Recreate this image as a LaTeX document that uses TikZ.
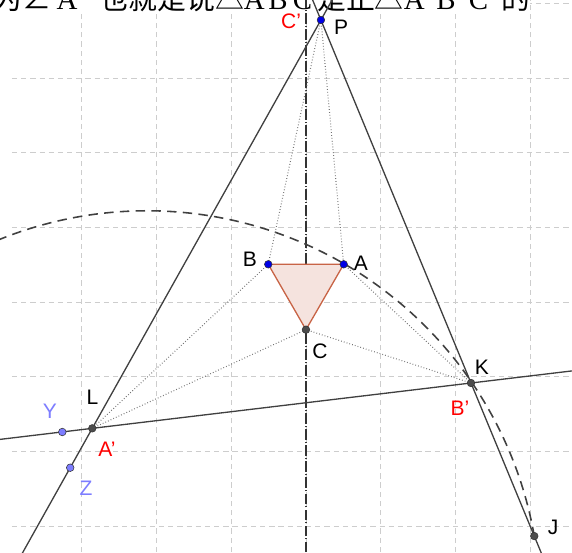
\documentclass[tikz,border=0pt]{standalone}
\usepackage{fontspec}
\setsansfont{Liberation Sans}
\newfontfamily\cjk{Noto Sans CJK SC}
\newfontfamily\lat{Liberation Serif}
\newcommand{\cw}[2]{\makebox[#1][l]{#2}}
\pgfdeclarelayer{bg}
\pgfsetlayers{bg,main}
\definecolor{ptblue}{RGB}{0,0,230}
\definecolor{ptviolet}{RGB}{125,125,255}
\definecolor{polybrown}{RGB}{200,100,70}
\definecolor{gridgray}{RGB}{205,205,205}
\tikzset{
	pt/.style={circle,draw=black!80,line width=0.2pt,inner sep=0pt,minimum size=2.9pt},
	bluept/.style={pt,fill=ptblue},
	darkpt/.style={pt,fill=black!70},
	violetpt/.style={pt,fill=ptviolet},
	lbl/.style={font=\sffamily\fontsize{8}{9}\selectfont,inner sep=0pt},
	gridln/.style={draw=gridgray,line width=0.3pt,dash pattern=on 2pt off 1.5pt},
	solidln/.style={draw=black!75,line width=0.5pt},
	dotln/.style={draw=black!55,line width=0.4pt,dash pattern=on 0.3pt off 0.8pt},
	arcln/.style={draw=black!75,line width=0.6pt,dash pattern=on 3.6pt off 2.4pt},
	axisln/.style={draw=black!80,line width=0.5pt,dash pattern=on 4pt off 0.8pt on 0.5pt off 0.8pt}
}
\begin{document}
\begin{tikzpicture}[line join=round]
	\useasboundingbox (-4.096,-3.347) rectangle (3.561,4.043);
	\clip (-3.936,-3.347) rectangle (3.561,4.043);
	\path (0.505,0.505) node[bluept](A){} (-0.505,0.505) node[bluept](B){} (0,-0.37) node[darkpt](C){};
	\path (0.2,3.775) node[bluept](P){} (2.209,-1.084) node[darkpt](K){} (-2.861,-1.691) node[darkpt](L){};
	\path (-3.262,-1.740) node[violetpt](Y){} (-3.156,-2.218) node[violetpt](Z){} (3.056,-3.133) node[darkpt](J){};
	\path (0.736,0.522) node[lbl](labA){A} (-0.75,0.576) node[lbl](labB){B} (0.187,-0.656) node[lbl](labC){C};
	\path (0.469,3.681) node[lbl](labP){P} (-0.2,3.762) node[lbl,red](labCp){C'};
	\path (2.356,-0.870) node[lbl](labK){K} (2.062,-1.419) node[lbl,red](labBp){B'};
	\path (-2.858,-1.272) node[lbl](labL){L} (-2.664,-1.968) node[lbl,red](labAp){A'};
	\path (-3.427,-1.459) node[lbl,ptviolet](labY){Y} (-2.945,-2.49) node[lbl,ptviolet](labZ){Z} (3.307,-3.012) node[lbl](labJ){J};
	\begin{pgfonlayer}{bg}
		\foreach \x in {-3,...,3} \draw[gridln] (\x,-3.347)--(\x,4.043);
		\foreach \y in {-3,...,4} \draw[gridln] (-3.936,\y)--(3.561,\y);
		\node[anchor=base west,fill=white,inner sep=0pt,font=\cjk\fontsize{11}{12}\selectfont] (note) at (-4.19,3.922)
			{\cw{11pt}{为}\cw{13pt}{∠}{\lat\cw{16.4pt}{A'}}也就是说\cw{11pt}{△}{\lat\cw{9.3pt}{A'}\cw{9.3pt}{B'}\cw{9.3pt}{C'}}是正\cw{11pt}{△}{\lat\cw{12.4pt}{A}\cw{12.4pt}{B}\cw{12.4pt}{C}}的};
		\draw[axisln] (0,-3.347)--(0,4.043);
		\draw[arcln] (J.center) arc[start angle=9.95,end angle=118,radius=5.264];
		\draw[solidln,shorten <=-3cm,shorten >=-1cm] (L.center)--(P.center);
		\draw[solidln,shorten <=-3cm,shorten >=-1cm] (K.center)--(P.center);
		\draw[solidln,shorten <=-2cm,shorten >=-2cm] (L.center)--(K.center);
		\foreach \a/\b in {P/A,P/B,L/B,L/C,K/A,K/C} \draw[dotln] (\a.center)--(\b.center);
		\draw[draw=polybrown,fill=polybrown!18,line width=0.5pt] (A.center)--(B.center)--(C.center)--cycle;
	\end{pgfonlayer}
\end{tikzpicture}
\end{document}
